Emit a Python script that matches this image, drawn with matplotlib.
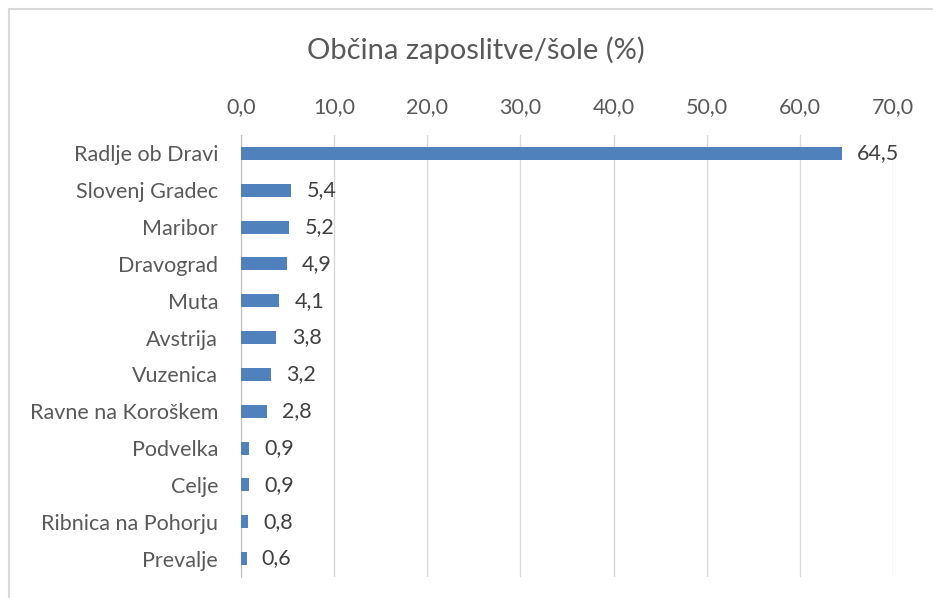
import matplotlib.pyplot as plt
from matplotlib.patches import Rectangle

categories = ['Radlje ob Dravi', 'Slovenj Gradec', 'Maribor', 'Dravograd', 'Muta', 'Avstrija',
              'Vuzenica', 'Ravne na Koroškem', 'Podvelka', 'Celje', 'Ribnica na Pohorju', 'Prevalje']
values = [64.5, 5.4, 5.2, 4.9, 4.1, 3.8, 3.2, 2.8, 0.9, 0.9, 0.8, 0.6]
xticks = [0, 10, 20, 30, 40, 50, 60, 70]

plt.rcParams['font.family'] = ['Lato', 'DejaVu Sans']

fig = plt.figure(figsize=(9.33, 5.98), dpi=100)
ax = fig.add_axes([241/933, 1-577/598, (893-241)/933, (577-135)/598])

y = list(range(len(categories)))
ax.barh(y, values, height=0.35, color='#4F81BD', zorder=3)
ax.set_ylim(len(categories)-0.5, -0.5)
ax.set_xlim(0, 70)
ax.set_yticks(y)
ax.set_yticklabels(categories, fontsize=15.5, color='#595959')
ax.set_xticks(xticks)
ax.set_xticklabels([f'{t:.1f}'.replace('.', ',') for t in xticks], fontsize=15.5, color='#595959')
ax.xaxis.tick_top()
ax.tick_params(axis='both', length=0)
ax.tick_params(axis='x', pad=13)
ax.tick_params(axis='y', pad=16.5)
ax.grid(axis='x', color='#D9D9D9', linewidth=1, zorder=0)
for s in ['top', 'right', 'bottom']:
    ax.spines[s].set_visible(False)
ax.spines['left'].set_color('#BFBFBF')

for yi, v in zip(y, values):
    ax.annotate(f'{v:.1f}'.replace('.', ','), (v, yi), xytext=(11, 0), textcoords='offset points',
                va='center', ha='left', fontsize=15.5, color='#404040')

fig.text(476/933, 1-50/598, 'Občina zaposlitve/šole (%)', ha='center', va='center',
         fontsize=21, color='#595959')

fig.patches.append(Rectangle((9/933, -0.1), 1.2, 1.1-9/598, transform=fig.transFigure,
                             fill=False, edgecolor='#D9D9D9', linewidth=1.5))

fig.savefig('out.png', dpi=100)
